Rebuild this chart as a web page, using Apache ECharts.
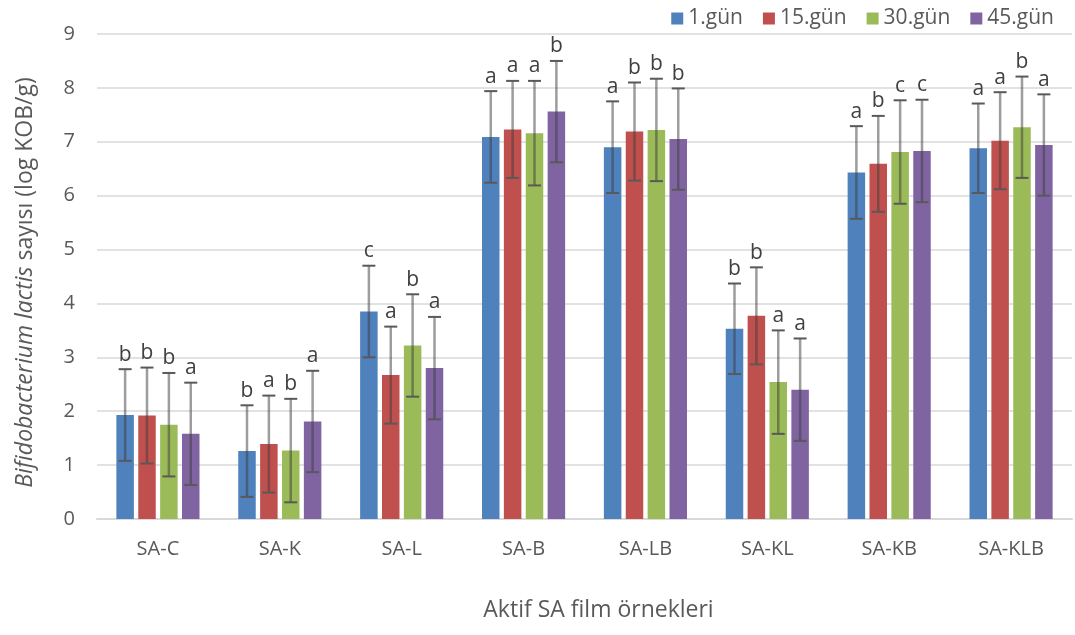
<!DOCTYPE html>
<html>
<head>
<meta charset="utf-8">
<script src="https://cdn.jsdelivr.net/npm/echarts@6/dist/echarts.min.js"></script>
<style>
html,body{margin:0;padding:0;background:#fff;}
#chart{width:1075px;height:635px;}
</style>
</head>
<body>
<div id="chart"></div>
<script>
const categories = ['SA-C', 'SA-K', 'SA-L', 'SA-B', 'SA-LB', 'SA-KL', 'SA-KB', 'SA-KLB'];
const seriesNames = ['1.gün', '15.gün', '30.gün', '45.gün'];
const yTicks = [0, 9, 1]; // min, max, interval

const day1  = [1.93, 1.26, 3.85, 7.09, 6.90, 3.53, 6.43, 6.88];
const day15 = [1.92, 1.39, 2.67, 7.23, 7.19, 3.77, 6.59, 7.02];
const day30 = [1.75, 1.27, 3.22, 7.16, 7.22, 2.54, 6.81, 7.27];
const day45 = [1.58, 1.81, 2.80, 7.56, 7.05, 2.40, 6.83, 6.94];

const err1  = [0.85, 0.85, 0.85, 0.85, 0.85, 0.84, 0.86, 0.83];
const err15 = [0.89, 0.90, 0.90, 0.90, 0.91, 0.90, 0.89, 0.90];
const err30 = [0.96, 0.96, 0.95, 0.97, 0.95, 0.96, 0.96, 0.94];
const err45 = [0.95, 0.94, 0.95, 0.94, 0.94, 0.95, 0.95, 0.94];

const let1  = ['b', 'b', 'c', 'a', 'a', 'b', 'a', 'a'];
const let15 = ['b', 'a', 'a', 'a', 'b', 'b', 'b', 'a'];
const let30 = ['b', 'b', 'b', 'a', 'b', 'a', 'c', 'b'];
const let45 = ['a', 'a', 'a', 'b', 'b', 'a', 'c', 'a'];

const colors = ['#4F81BD', '#C0504D', '#9BBB59', '#8064A2'];
const values = [day1, day15, day30, day45];
const errors = [err1, err15, err30, err45];
const letters = [let1, let15, let30, let45];

const FONT = '"Open Sans", sans-serif';
const BAR_W = 17.5;
const GAP_FRAC = 0.25;
const STEP = BAR_W * (1 + GAP_FRAC);

const series = [];
values.forEach((vals, i) => {
  series.push({
    name: seriesNames[i],
    type: 'bar',
    data: vals,
    barWidth: BAR_W,
    barGap: (GAP_FRAC * 100) + '%',
    itemStyle: { color: colors[i] },
    z: 2
  });
});
values.forEach((vals, i) => {
  series.push({
    type: 'custom',
    z: 5,
    silent: true,
    data: vals.map((v, k) => [k, v, errors[i][k]]),
    renderItem: function (params, api) {
      const x = api.value(0), v = api.value(1), e = api.value(2);
      const hi = api.coord([x, v + e]);
      const lo = api.coord([x, v - e]);
      const cx = hi[0] + (i - 1.5) * STEP;
      const capW = 6.5;
      const capStyle = { stroke: '#595959', lineWidth: 2 };
      return {
        type: 'group',
        children: [
          { type: 'line', shape: { x1: cx, y1: hi[1], x2: cx, y2: lo[1] },
            style: { stroke: 'rgba(60,60,60,0.5)', lineWidth: 2.5 } },
          { type: 'line', shape: { x1: cx - capW, y1: hi[1], x2: cx + capW, y2: hi[1] }, style: capStyle },
          { type: 'line', shape: { x1: cx - capW, y1: lo[1], x2: cx + capW, y2: lo[1] }, style: capStyle },
          { type: 'text', x: cx, y: hi[1] - 4,
            style: { text: letters[i][params.dataIndex], fill: '#404040', font: '21px ' + FONT,
                     align: 'center', verticalAlign: 'bottom' } }
        ]
      };
    }
  });
});

const chart = echarts.init(document.getElementById('chart'));
chart.setOption({
  animation: false,
  backgroundColor: '#fff',
  textStyle: { fontFamily: FONT },
  legend: {
    data: seriesNames,
    right: 16,
    top: 3,
    itemWidth: 12,
    itemHeight: 12,
    itemGap: 20,
    icon: 'rect',
    textStyle: { fontSize: 21, color: '#595959', fontFamily: FONT }
  },
  grid: { left: 97, right: 3, top: 34, bottom: 116 },
  xAxis: {
    type: 'category',
    data: categories,
    axisLine: { lineStyle: { color: '#d9d9d9', width: 2 } },
    axisTick: { show: false },
    axisLabel: { color: '#595959', fontSize: 20, margin: 20, fontFamily: FONT },
    name: 'Aktif SA film örnekleri',
    nameLocation: 'middle',
    nameGap: 80,
    nameTextStyle: { color: '#595959', fontSize: 23, fontFamily: FONT, padding: [0, 0, 0, 28] }
  },
  yAxis: {
    type: 'value',
    min: yTicks[0],
    max: yTicks[1],
    interval: yTicks[2],
    axisLine: { show: false },
    axisTick: { show: false },
    splitLine: { lineStyle: { color: '#d9d9d9', width: 1.5 } },
    axisLabel: { color: '#595959', fontSize: 20, margin: 22, fontFamily: FONT },
    name: '{i|Bifidobacterium lactis} {n|sayısı (log KOB/g)}',
    nameLocation: 'middle',
    nameGap: 60,
    nameTextStyle: {
      color: '#595959', fontSize: 23, fontFamily: FONT, padding: [0, 12, 0, 0],
      rich: {
        i: { fontStyle: 'italic', fontSize: 23, color: '#595959', fontFamily: FONT },
        n: { fontSize: 23, color: '#595959', fontFamily: FONT }
      }
    }
  },
  series: series
});
</script>
</body>
</html>
